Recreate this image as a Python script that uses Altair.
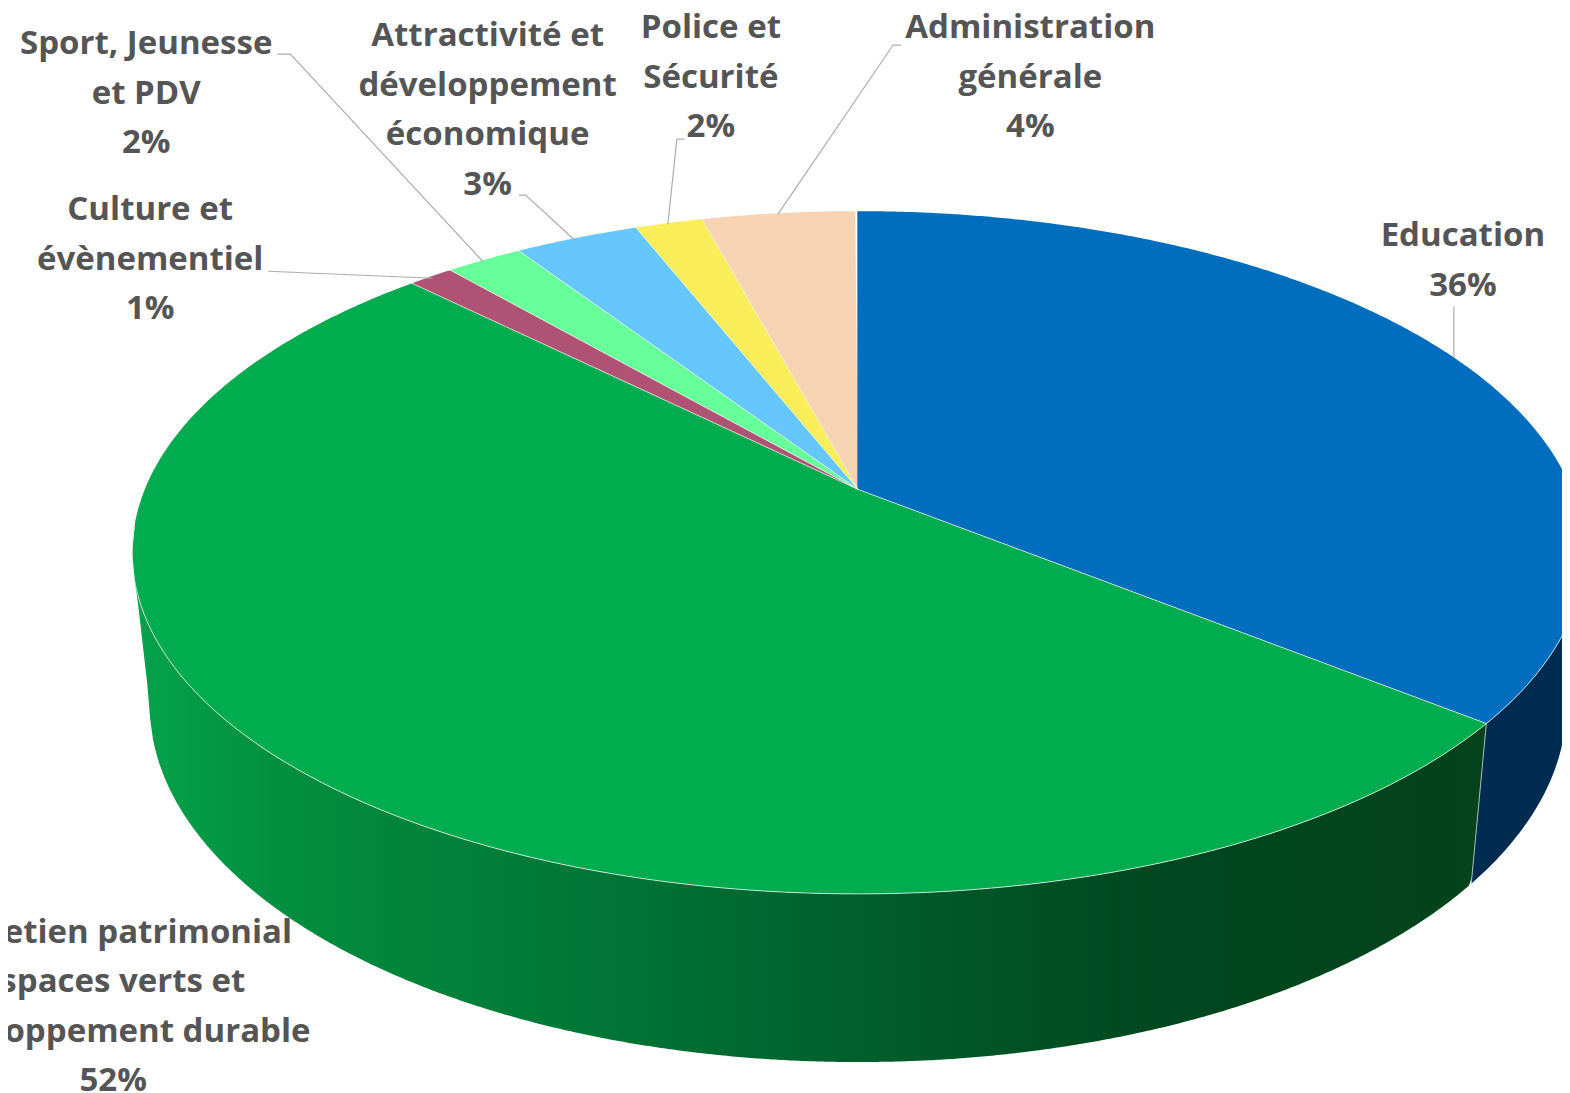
import numpy as np
import pandas as pd
import altair as alt

# ---- chart values
categories = ["Education",
              "Entretien patrimonial espaces verts et développement durable",
              "Culture et évènementiel", "Sport, Jeunesse et PDV",
              "Attractivité et développement économique",
              "Police et Sécurité", "Administration générale"]
shares = [35.8, 51.7, 1.2, 2.05, 3.3, 1.8, 4.15]
top_colors = ["#006DBE", "#00AC4E", "#B05274", "#66FF99", "#66C7FF", "#F9ED5A", "#F6D4B3"]
label_texts = ["Education\n36%",
               "Entretien patrimonial\nespaces verts et\ndéveloppement durable\n52%",
               "Culture et\névènementiel\n1%",
               "Sport, Jeunesse\net PDV\n2%",
               "Attractivité et\ndéveloppement\néconomique\n3%",
               "Police et\nSécurité\n2%",
               "Administration\ngénérale\n4%"]
label_x = [1461, 113, 150, 146, 487, 710, 1029]
label_y = [235, 931, 209, 43, 35, 27, 27]
leaders = [
    [(1452, 305), (1452, 356)],
    [(268, 270), (432, 277)],
    [(277, 53), (290, 53), (482, 260)],
    [(518, 194), (525, 194), (573, 238)],
    [(684, 138), (676, 138), (667, 223)],
    [(900, 44), (892, 44), (777, 213)],
]

# ---- perspective of the pie
CX, CY, A, B, K = 857.0, 488.0, 712.5, -329.4, 0.1848


def rim(theta):
    u, v = np.sin(theta), np.cos(theta)
    d = 1 + K * v
    return CX + A * u / d, CY + B * v / d


def lower(x, y):
    return CX + (x - CX) * 0.976, y + 168 + (y - 892) * 0.047


def intervals(px, py, step=3.0):
    """vertical extent of a closed polygon at each x"""
    px, py = np.asarray(px), np.asarray(py)
    xs = np.unique(np.concatenate([np.arange(px.min(), px.max(), step), [px.min(), px.max(), CX]]))
    xs = xs[(xs >= px.min()) & (xs <= px.max())]
    x2, y2 = np.roll(px, -1), np.roll(py, -1)
    rows = []
    for x in xs:
        lo, hi = np.inf, -np.inf
        m = (np.minimum(px, x2) <= x) & (np.maximum(px, x2) >= x)
        for a, b, c, d in zip(px[m], py[m], x2[m], y2[m]):
            if c == a:
                vals = [b, d]
            else:
                vals = [b + (d - b) * (x - a) / (c - a)]
            lo, hi = min(lo, *vals), max(hi, *vals)
        rows.append((x, lo, hi))
    return rows


edges = np.radians(np.concatenate([[0], np.cumsum(shares)]) / sum(shares) * 360)

xs = alt.X("x:Q", scale=alt.Scale(domain=[8, 1560], nice=False, zero=False), axis=None)
ys = alt.Y("y:Q", scale=alt.Scale(domain=[1091, 7], nice=False, zero=False), axis=None)

top_rows, radial_rows = [], []
for i, cat in enumerate(categories):
    th = np.linspace(edges[i], edges[i + 1], max(8, int(np.degrees(edges[i + 1] - edges[i]) * 4)))
    rx, ry = rim(th)
    for x, lo, hi in intervals(np.r_[CX, rx], np.r_[CY, ry]):
        top_rows.append({"cat": cat, "x": x, "y": lo, "y2": hi})
    if i > 0:
        radial_rows += [{"id": i, "o": 0, "x": CX, "y": CY},
                        {"id": i, "o": 1, "x": float(rx[0]), "y": float(ry[0])}]

# walls
LEFT_TURN = np.radians(259.4)
wall_blue_th = np.linspace(np.radians(100.6), edges[1], 120)
wall_green_th = np.linspace(edges[1], LEFT_TURN, 500)


def wall(th):
    tx, ty = rim(th)
    bx, by = lower(tx, ty)
    return pd.DataFrame(intervals(np.r_[tx, bx[::-1]], np.r_[ty, by[::-1]]), columns=["x", "y", "y2"])


green_stops = [(0.0, "#04A34B"), (0.126, "#028C3E"), (0.35, "#007535"), (0.575, "#005A2A"),
               (0.76, "#00461E"), (1.0, "#04431C")]
wall_green = alt.Chart(wall(wall_green_th)).mark_area(
    clip=True,
    color=alt.LinearGradient(gradient="linear", x1=0, x2=1, y1=0, y2=0,
                             stops=[alt.GradientStop(offset=o, color=c) for o, c in green_stops]),
).encode(x=xs, y=ys, y2="y2:Q")
wall_blue = alt.Chart(wall(wall_blue_th)).mark_area(clip=True, color="#002B50").encode(x=xs, y=ys, y2="y2:Q")

tops = alt.Chart(pd.DataFrame(top_rows)).mark_area(clip=True).encode(
    x=xs, y=ys, y2="y2:Q",
    color=alt.Color("cat:N", scale=alt.Scale(domain=categories, range=top_colors), legend=None),
)

# seam between Education and Administration (closes the antialiasing gap)
zx, zy = rim(np.array([edges[0]]))
zero_seam = alt.Chart(pd.DataFrame({"x": [CX, zx[0]], "y": [CY, zy[0]], "o": [0, 1]})).mark_line(
    clip=True, color=top_colors[0], strokeWidth=1.5).encode(x=xs, y=ys, order="o:Q")

# thin pale edges
th_front = np.linspace(edges[1] - np.radians(35), LEFT_TURN + np.radians(4), 400)
fx, fy = rim(th_front)
front = pd.DataFrame({"x": fx, "y": fy})
rim_line = alt.Chart(front).mark_line(clip=True, color="#DDEEE4", strokeWidth=1, opacity=0.85).encode(
    x=xs, y=ys, order="idx:Q").transform_window(idx="row_number()")
radials = alt.Chart(pd.DataFrame(radial_rows)).mark_line(
    clip=True, color="#E9F1EC", strokeWidth=1, opacity=0.75).encode(
    x=xs, y=ys, detail="id:N", order="o:Q")
sx, sy = rim(np.array([edges[1]]))
lx, ly = lower(sx, sy)
seam = alt.Chart(pd.DataFrame({"x": [sx[0], lx[0]], "y": [sy[0], ly[0]], "o": [0, 1]})).mark_line(
    color="#A9B9B2", strokeWidth=1).encode(x=xs, y=ys, order="o:Q")

# leaders
leader_rows = [{"id": i, "o": j, "x": p[0], "y": p[1]} for i, l in enumerate(leaders) for j, p in enumerate(l)]
leader = alt.Chart(pd.DataFrame(leader_rows)).mark_line(color="#ADADAD", strokeWidth=1.2).encode(
    x=xs, y=ys, detail="id:N", order="o:Q")

labels = alt.Chart(pd.DataFrame({"t": label_texts, "x": label_x, "y": label_y})).mark_text(
    font="Open Sans", fontWeight="bold", fontSize=33, color="#555555", lineBreak="\n",
    lineHeight=49.5, align="center", baseline="middle",
).encode(x=xs, y=ys, text="t:N")

chart = alt.layer(wall_green, wall_blue, tops, zero_seam, radials, rim_line, seam, leader, labels).properties(
    width=1554, height=1085, padding=0, autosize=alt.AutoSizeParams(type="none"),
).configure_view(stroke=None)

chart.save("out.html", embed_options={"renderer": "svg", "actions": False})
